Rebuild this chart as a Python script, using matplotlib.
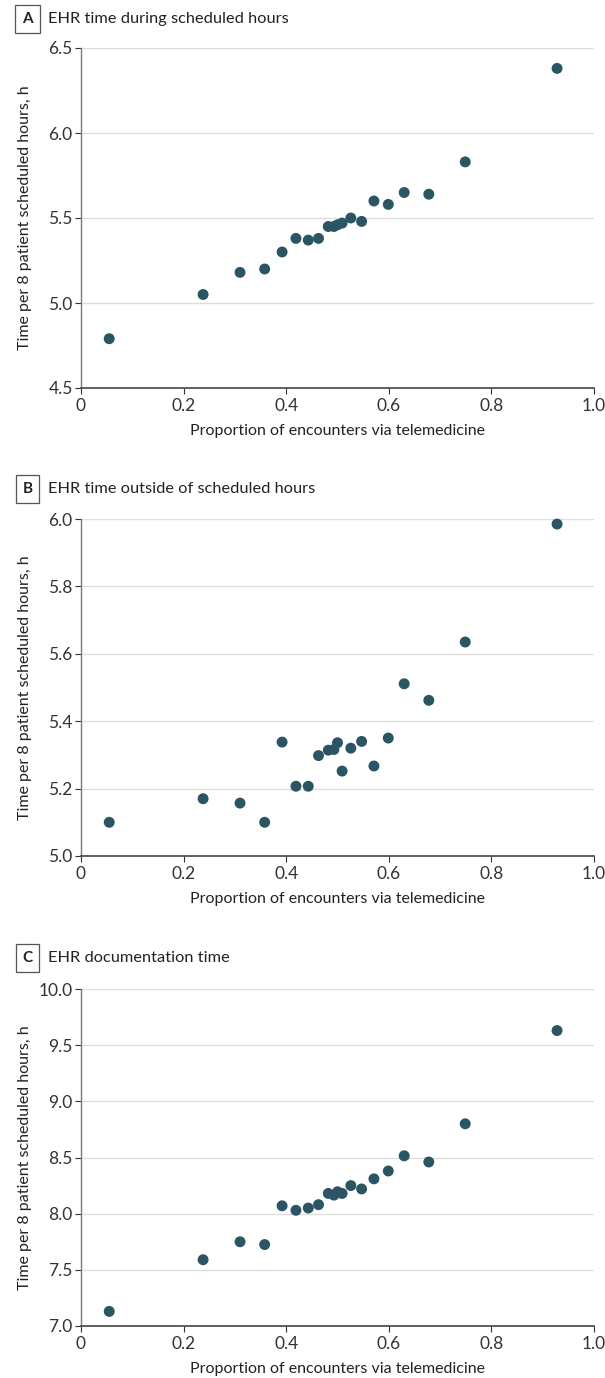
import matplotlib
matplotlib.use("Agg")
import matplotlib.pyplot as plt

plt.rcParams['font.family'] = ['Lato', 'DejaVu Sans']

telemed = [0.055, 0.238, 0.310, 0.358, 0.392, 0.419, 0.443, 0.463, 0.482, 0.493,
           0.500, 0.509, 0.526, 0.547, 0.571, 0.599, 0.630, 0.678, 0.749, 0.928]
during = [4.79, 5.05, 5.18, 5.20, 5.30, 5.38, 5.37, 5.38, 5.45, 5.45,
          5.46, 5.47, 5.50, 5.48, 5.60, 5.58, 5.65, 5.64, 5.83, 6.38]
outside = [5.10, 5.17, 5.157, 5.10, 5.338, 5.207, 5.207, 5.298, 5.314, 5.316,
           5.336, 5.252, 5.32, 5.34, 5.267, 5.35, 5.511, 5.462, 5.635, 5.985]
documentation = [7.13, 7.59, 7.75, 7.725, 8.07, 8.03, 8.05, 8.08, 8.18, 8.165,
                 8.195, 8.18, 8.25, 8.22, 8.31, 8.38, 8.515, 8.46, 8.80, 9.63]

panel_letters = ["A", "B", "C"]
panel_titles = ["EHR time during scheduled hours",
                "EHR time outside of scheduled hours",
                "EHR documentation time"]
x_ticks = [0, 0.2, 0.4, 0.6, 0.8, 1.0]
x_ticklabels = ["0", "0.2", "0.4", "0.6", "0.8", "1.0"]
y_ticks_list = [[4.5, 5.0, 5.5, 6.0, 6.5],
                [5.0, 5.2, 5.4, 5.6, 5.8, 6.0],
                [7.0, 7.5, 8.0, 8.5, 9.0, 9.5, 10.0]]
x_label = "Proportion of encounters via telemedicine"
y_label = "Time per 8 patient scheduled hours, h"

series = [during, outside, documentation]

W, H = 605, 1378
fig = plt.figure(figsize=(W / 100, H / 100), dpi=100)

boxes = [(48, 388), (519, 856), (989, 1326)]
title_y = [19, 489, 958]
left_px, right_px = 81, 594
color = '#2c5564'

for i, (top, bot) in enumerate(boxes):
    ax = fig.add_axes([left_px / W, 1 - bot / H, (right_px - left_px) / W, (bot - top) / H])
    yt = y_ticks_list[i]
    ax.set_xlim(0, 1.0)
    ax.set_ylim(yt[0], yt[-1])
    ax.set_yticks(yt)
    ax.set_yticklabels([f"{v:.1f}" for v in yt])
    ax.set_xticks(x_ticks)
    ax.set_xticklabels(x_ticklabels)
    ax.yaxis.grid(True, color='#dedede', linewidth=1.0)
    ax.set_axisbelow(True)
    for s in ['top', 'right']:
        ax.spines[s].set_visible(False)
    ax.spines['bottom'].set_color('#444444')
    ax.spines['left'].set_color('#7a7a7a')
    ax.spines['bottom'].set_linewidth(1.2)
    ax.spines['left'].set_linewidth(1.0)
    ax.tick_params(axis='both', labelsize=12.5, colors='#333333', length=4, width=0.8,
                   direction='out')
    ax.tick_params(axis='x', pad=3)
    ax.tick_params(axis='y', pad=2)
    ax.scatter(telemed, series[i], s=62, color=color, edgecolors='none', zorder=3, clip_on=False)

    fig.text(337 / W, 1 - (bot + 43) / H, x_label,
             fontsize=11.5, color='#222222', ha='center', va='center')
    fig.text(25 / W, 1 - ((top + bot) / 2) / H, y_label, rotation=90,
             fontsize=11.5, color='#222222', ha='center', va='center')

    ty = 1 - title_y[i] / H
    fig.text(27.5 / W, ty, panel_letters[i], fontsize=11, fontweight='bold', color='#222222',
             ha='center', va='center',
             bbox=dict(boxstyle='square,pad=0.45', facecolor='white', edgecolor='#555555', linewidth=0.9))
    fig.text(48 / W, ty, panel_titles[i], fontsize=11.8, color='#222222', ha='left', va='center')

fig.savefig("out.png", dpi=100)
